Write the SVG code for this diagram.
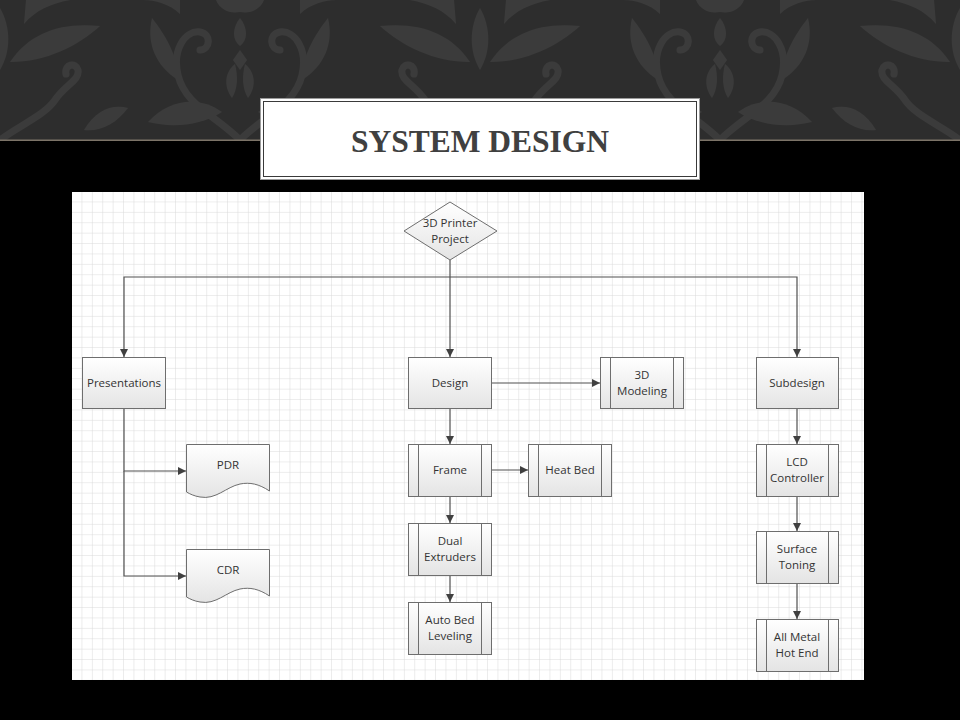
<svg xmlns="http://www.w3.org/2000/svg" width="960" height="720" viewBox="0 0 960 720">
<defs>
  <style>
    .node { fill: url(#nodeGrad); stroke: #6e6e6e; stroke-width: 1; }
    .bar { stroke: #6e6e6e; stroke-width: 1; fill: none; }
    .lbl { font-family: "Open Sans", "Noto Sans", "DejaVu Sans", sans-serif; font-size: 11.5px; fill: #333333; text-anchor: middle; }
    .conn { fill: none; stroke: #505050; stroke-width: 1.2; }
    .dm { fill: #3b3b3b; }
    .ds { fill: none; stroke: #3b3b3b; stroke-width: 7; stroke-linecap: round; }
  </style>
  <linearGradient id="nodeGrad" x1="0" y1="0" x2="0" y2="1">
    <stop offset="0" stop-color="#ffffff"/>
    <stop offset="1" stop-color="#e4e4e4"/>
  </linearGradient>
  <marker id="ah" viewBox="0 0 10 10" refX="10" refY="5" markerWidth="8" markerHeight="8" markerUnits="userSpaceOnUse" orient="auto">
    <path d="M0,0 L10,5 L0,10 Z" fill="#404040"/>
  </marker>
  <pattern id="grid" x="72" y="192" width="10.4" height="10.4" patternUnits="userSpaceOnUse">
    <path d="M10.4,0 V10.4 M0,10.4 H10.4" fill="none" stroke="#dadada" stroke-width="1"/>
  </pattern>
  <g id="centralHalf">
    <path class="ds" d="M0,140 C25,115 55,105 62,75 C68,50 55,30 40,32 C28,34 30,50 40,50"/>
    <path class="dm" d="M18,112 C40,96 70,98 92,122 C68,128 40,126 18,112 Z"/>
    <path class="dm" d="M62,80 C84,66 94,44 88,18 C74,36 62,56 62,80 Z"/>
    <path class="dm" d="M8,98 C17,86 15,72 5,64 C2,76 2,88 8,98 Z"/>
    <path class="dm" d="M60,14 C70,4 86,0 96,0 L60,0 Z"/>
  </g>
  <g id="sideHalf">
    <path class="ds" d="M0,140 C20,125 45,115 55,100 C65,85 80,80 78,70 C76,62 64,64 66,74"/>
    <path class="dm" d="M10,62 C30,32 62,22 100,26 C78,46 46,62 10,62 Z"/>
    <path class="dm" d="M24,24 C36,10 50,4 70,0 L26,0 Z"/>
    <path class="dm" d="M84,130 C96,110 112,104 128,108 C116,124 100,132 84,130 Z"/>
  </g>
  <pattern id="damask" x="0" y="0" width="480" height="140" patternUnits="userSpaceOnUse">
    <rect width="480" height="140" fill="#2d2d2d"/>
    <g transform="translate(240,0)">
      <use href="#centralHalf"/>
      <use href="#centralHalf" transform="scale(-1,1)"/>
      <path class="dm" d="M0,18 C8,28 8,40 0,46 C-8,40 -8,28 0,18 Z"/>
      <path class="dm" d="M0,50 L7,60 L0,70 L-7,60 Z"/>
      <path class="dm" d="M-24,0 C-20,10 -10,14 0,12 C10,14 20,10 24,0 Z"/>
    </g>
    <g>
      <use href="#sideHalf"/>
      <path class="dm" d="M0,70 C-12,50 -10,25 0,8 C10,25 12,50 0,70 Z"/>
    </g>
    <g transform="translate(480,0)">
      <use href="#sideHalf" transform="scale(-1,1)"/>
      <path class="dm" d="M0,70 C-12,50 -10,25 0,8 C10,25 12,50 0,70 Z"/>
    </g>
  </pattern>
</defs>

<!-- background -->
<rect x="0" y="0" width="960" height="720" fill="#000000"/>
<rect x="0" y="0" width="960" height="140" fill="url(#damask)"/>
<rect x="0" y="139.5" width="960" height="1.5" fill="#7d7468"/>

<!-- title -->
<g id="title">
  <rect x="260.5" y="98.5" width="439" height="81" fill="#ffffff" stroke="#9a9a9a" stroke-width="1"/>
  <rect x="263.5" y="101.5" width="433" height="75" fill="none" stroke="#3a3a3a" stroke-width="1"/>
  <text x="480" y="152" text-anchor="middle" font-family="'Liberation Serif', 'Times New Roman', serif" font-weight="bold" font-size="31.5" fill="#404040">SYSTEM DESIGN</text>
</g>

<!-- diagram panel -->
<rect x="72" y="192" width="792" height="488" fill="#ffffff"/>
<rect x="72" y="192" width="792" height="488" fill="url(#grid)"/>

<!-- connectors -->
<g id="connectors">
  <path class="conn" d="M450,260 V357" marker-end="url(#ah)"/>
  <path class="conn" d="M450,277 H124 V357" marker-end="url(#ah)"/>
  <path class="conn" d="M450,277 H797 V357" marker-end="url(#ah)"/>
  <path class="conn" d="M492,383 H600" marker-end="url(#ah)"/>
  <path class="conn" d="M124,409 V471 H186" marker-end="url(#ah)"/>
  <path class="conn" d="M124,471 V576 H186" marker-end="url(#ah)"/>
  <path class="conn" d="M450,409 V444" marker-end="url(#ah)"/>
  <path class="conn" d="M492,470 H528" marker-end="url(#ah)"/>
  <path class="conn" d="M450,497 V523" marker-end="url(#ah)"/>
  <path class="conn" d="M450,576 V602" marker-end="url(#ah)"/>
  <path class="conn" d="M797,408 V444" marker-end="url(#ah)"/>
  <path class="conn" d="M797,497 V531" marker-end="url(#ah)"/>
  <path class="conn" d="M797,584 V619" marker-end="url(#ah)"/>
</g>

<!-- nodes -->
<g id="n-project">
  <path class="node" d="M450,202 L497,231 L450,260 L404,231 Z"/>
  <text class="lbl" x="450" y="227">3D Printer</text>
  <text class="lbl" x="450" y="242.7">Project</text>
</g>
<g id="n-presentations">
  <rect class="node" x="82.5" y="357.5" width="83" height="51"/>
  <text class="lbl" x="124" y="387">Presentations</text>
</g>
<g id="n-design">
  <rect class="node" x="408.5" y="357.5" width="83" height="51"/>
  <text class="lbl" x="450" y="387">Design</text>
</g>
<g id="n-modeling">
  <rect class="node" x="600.5" y="357.5" width="83" height="51"/>
  <path class="bar" d="M610.5,357.5 V408.5 M673.5,357.5 V408.5"/>
  <text class="lbl" x="642" y="379">3D</text>
  <text class="lbl" x="642" y="394.7">Modeling</text>
</g>
<g id="n-subdesign">
  <rect class="node" x="756.5" y="357.5" width="82" height="51"/>
  <text class="lbl" x="797" y="387">Subdesign</text>
</g>
<g id="n-pdr">
  <path class="node" d="M186.5,444.5 H269.5 V491 C259,484 250,482 240,484 C226,487 216,500 200,497 C194,496 190,494 186.5,492 Z"/>
  <text class="lbl" x="228" y="469">PDR</text>
</g>
<g id="n-cdr">
  <path class="node" d="M186.5,549.5 H269.5 V596 C259,589 250,587 240,589 C226,592 216,605 200,602 C194,601 190,599 186.5,597 Z"/>
  <text class="lbl" x="228" y="574">CDR</text>
</g>
<g id="n-frame">
  <rect class="node" x="408.5" y="444.5" width="83" height="52"/>
  <path class="bar" d="M418.5,444.5 V496.5 M481.5,444.5 V496.5"/>
  <text class="lbl" x="450" y="474">Frame</text>
</g>
<g id="n-heatbed">
  <rect class="node" x="528.5" y="444.5" width="83" height="52"/>
  <path class="bar" d="M538.5,444.5 V496.5 M601.5,444.5 V496.5"/>
  <text class="lbl" x="570" y="474">Heat Bed</text>
</g>
<g id="n-dual">
  <rect class="node" x="408.5" y="523.5" width="83" height="52"/>
  <path class="bar" d="M418.5,523.5 V575.5 M481.5,523.5 V575.5"/>
  <text class="lbl" x="450" y="545">Dual</text>
  <text class="lbl" x="450" y="560.7">Extruders</text>
</g>
<g id="n-autobed">
  <rect class="node" x="408.5" y="602.5" width="83" height="52"/>
  <path class="bar" d="M418.5,602.5 V654.5 M481.5,602.5 V654.5"/>
  <text class="lbl" x="450" y="624">Auto Bed</text>
  <text class="lbl" x="450" y="639.7">Leveling</text>
</g>
<g id="n-lcd">
  <rect class="node" x="756.5" y="444.5" width="82" height="52"/>
  <path class="bar" d="M766.5,444.5 V496.5 M828.5,444.5 V496.5"/>
  <text class="lbl" x="797" y="466">LCD</text>
  <text class="lbl" x="797" y="481.7">Controller</text>
</g>
<g id="n-surface">
  <rect class="node" x="756.5" y="531.5" width="82" height="52"/>
  <path class="bar" d="M766.5,531.5 V583.5 M828.5,531.5 V583.5"/>
  <text class="lbl" x="797" y="553">Surface</text>
  <text class="lbl" x="797" y="568.7">Toning</text>
</g>
<g id="n-hotend">
  <rect class="node" x="756.5" y="619.5" width="82" height="52"/>
  <path class="bar" d="M766.5,619.5 V671.5 M828.5,619.5 V671.5"/>
  <text class="lbl" x="797" y="641">All Metal</text>
  <text class="lbl" x="797" y="656.7">Hot End</text>
</g>
</svg>
